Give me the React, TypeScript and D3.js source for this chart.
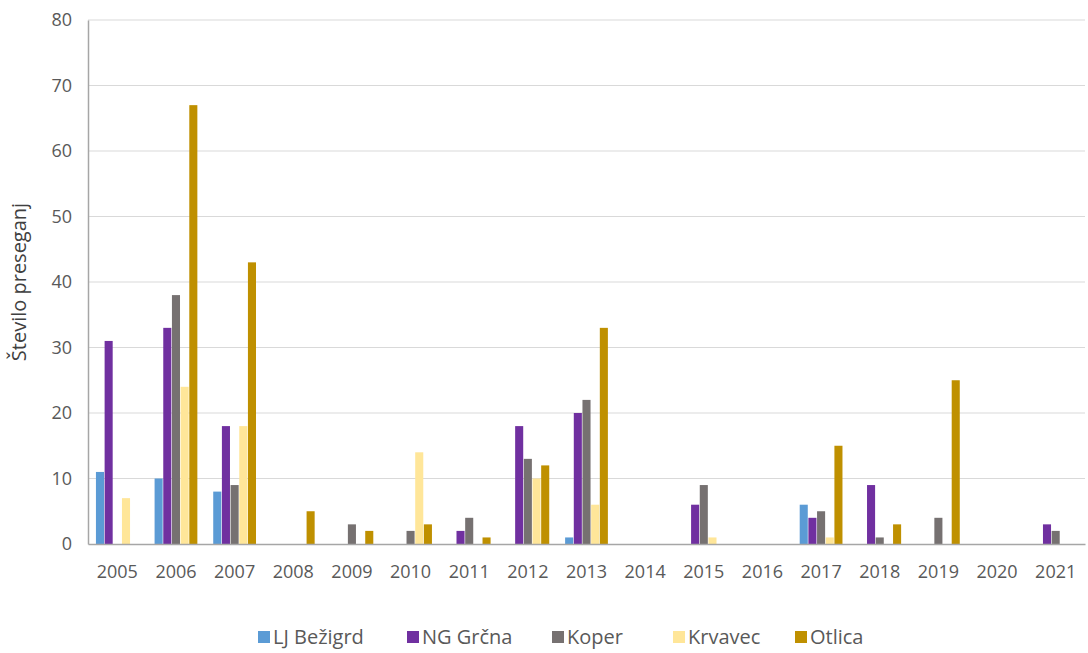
import { useRef, useEffect } from 'react';
import * as d3 from 'd3';

const years = ['2005', '2006', '2007', '2008', '2009', '2010', '2011', '2012', '2013', '2014', '2015', '2016', '2017', '2018', '2019', '2020', '2021'];
const stations = ['LJ Bežigrd', 'NG Grčna', 'Koper', 'Krvavec', 'Otlica'];
const colors = ['#5b9bd5', '#7030a0', '#767171', '#ffe699', '#bf9000'];

const ljBezigrad = [11, 10, 8, 0, 0, 0, 0, 0, 1, 0, 0, 0, 6, 0, 0, 0, 0];
const ngGrcna = [31, 33, 18, 0, 0, 0, 2, 18, 20, 0, 6, 0, 4, 9, 0, 0, 3];
const koper = [0, 38, 9, 0, 3, 2, 4, 13, 22, 0, 9, 0, 5, 1, 4, 0, 2];
const krvavec = [7, 24, 18, 0, 0, 14, 0, 10, 6, 0, 1, 0, 1, 0, 0, 0, 0];
const otlica = [0, 67, 43, 5, 2, 3, 1, 12, 33, 0, 0, 0, 15, 3, 25, 0, 0];
const yTicks = [0, 10, 20, 30, 40, 50, 60, 70, 80];

const series = [ljBezigrad, ngGrcna, koper, krvavec, otlica];
const FONT = '"Open Sans", "Noto Sans", sans-serif';

export default function App() {
  const svgRef = useRef<SVGSVGElement>(null);

  useEffect(() => {
    if (!svgRef.current) return;
    const W = 1088, H = 653;
    const margin = { top: 20, right: 3, bottom: 109, left: 88 };
    const width = W - margin.left - margin.right;
    const height = H - margin.top - margin.bottom;

    const svg = d3.select(svgRef.current);
    svg.selectAll('*').remove();
    svg.attr('width', W).attr('height', H);

    const g = svg.append('g').attr('transform', `translate(${margin.left},${margin.top})`);

    const x0 = d3.scaleBand().domain(years).range([0, width]).paddingInner(0.25).paddingOuter(0.125);
    const x1 = d3.scaleBand().domain(stations).range([0, x0.bandwidth()]).padding(0.07);
    const y = d3.scaleLinear().domain([0, 80]).range([height, 0]);

    // Grid lines
    g.append('g')
      .selectAll('line')
      .data(yTicks.filter(t => t > 0))
      .join('line')
      .attr('x1', 0).attr('x2', width)
      .attr('y1', d => y(d)).attr('y2', d => y(d))
      .attr('stroke', '#d9d9d9').attr('stroke-width', 1);

    // Bars
    years.forEach((yr, i) => {
      stations.forEach((st, j) => {
        const v = series[j][i];
        if (v <= 0) return;
        g.append('rect')
          .attr('x', x0(yr)! + x1(st)!)
          .attr('width', x1.bandwidth())
          .attr('y', y(v))
          .attr('height', y(0) - y(v))
          .attr('fill', colors[j]);
      });
    });

    // Y axis
    const yAxis = g.append('g').call(d3.axisLeft(y).tickValues(yTicks).tickSize(0).tickPadding(16));
    yAxis.select('.domain').attr('stroke', '#a6a6a6').attr('stroke-width', 1.5);
    yAxis.selectAll('text').attr('fill', '#595959').attr('font-size', 18).attr('font-family', FONT);

    // X axis
    const xAxis = g.append('g').attr('transform', `translate(0,${height})`)
      .call(d3.axisBottom(x0).tickSize(0).tickPadding(21));
    xAxis.select('.domain').attr('stroke', '#a6a6a6').attr('stroke-width', 1.5);
    xAxis.selectAll('text').attr('fill', '#595959').attr('font-size', 18).attr('font-family', FONT);

    // Axis title
    svg.append('text')
      .attr('transform', `translate(26,${margin.top + height / 2}) rotate(-90)`)
      .attr('text-anchor', 'middle')
      .attr('fill', '#404040')
      .attr('font-size', 20)
      .attr('font-family', FONT)
      .text('Število preseganj');

    // Legend
    const legendX = [258, 407, 552, 673, 795];
    const legend = svg.append('g').attr('transform', `translate(0,637)`);
    stations.forEach((st, j) => {
      const lg = legend.append('g').attr('transform', `translate(${legendX[j]},0)`);
      lg.append('rect').attr('x', 0).attr('y', -6).attr('width', 12).attr('height', 12).attr('fill', colors[j]);
      lg.append('text').attr('x', 15).attr('y', 0).attr('dy', '0.35em')
        .attr('fill', '#595959').attr('font-size', 20).attr('font-family', FONT).text(st);
    });
  }, []);

  return <svg ref={svgRef} style={{ position: 'absolute', left: 0, top: 0, background: '#fff' }} />;
}
